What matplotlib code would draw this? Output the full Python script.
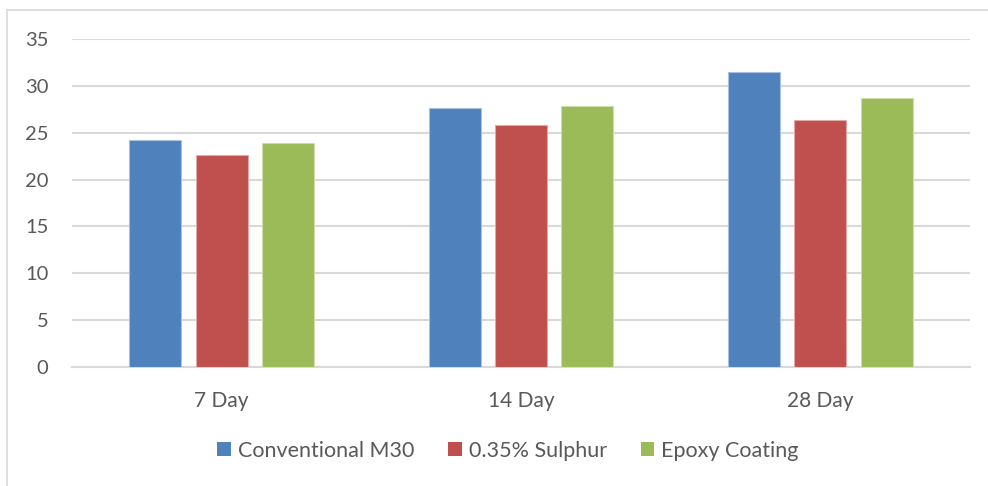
import numpy as np
import matplotlib.pyplot as plt
from matplotlib.lines import Line2D

plt.rcParams['font.family'] = ['Lato', 'DejaVu Sans']

ages = ['7 Day', '14 Day', '28 Day']
series = ['Conventional M30', '0.35% Sulphur', 'Epoxy Coating']
conventional = [24.2, 27.6, 31.5]
sulphur = [22.6, 25.8, 26.4]
epoxy = [23.9, 27.8, 28.7]
colors = ['#4f81bd', '#c0504d', '#9bbb59']
edges = ['#a7c0de', '#e0a8a6', '#cdddac']

text_col = '#595959'
grid_col = '#d9d9d9'

fig = plt.figure(figsize=(9.88, 4.86), dpi=100)
ax = fig.add_axes([72 / 988, 1 - 367 / 486, (970 - 72) / 988, (367 - 39) / 486])

x = np.arange(len(ages))
width = 0.174
step = 0.222
for i, vals in enumerate([conventional, sulphur, epoxy]):
    ax.bar(x + (i - 1) * step, vals, width, color=colors[i], edgecolor=edges[i],
           linewidth=0.8, label=series[i], zorder=3)

ax.set_xlim(-0.5, 2.5)
ax.set_ylim(0, 35)
ax.set_yticks(range(0, 36, 5))
ax.set_xticks(x)
ax.set_xticklabels(ages)
ax.yaxis.grid(True, color=grid_col, linewidth=1.5, zorder=0)
for s in ['top', 'right', 'left']:
    ax.spines[s].set_visible(False)
ax.spines['bottom'].set_color(grid_col)
ax.spines['bottom'].set_linewidth(1.5)
ax.tick_params(axis='y', length=0, pad=17, labelsize=14.5, labelcolor=text_col)
ax.tick_params(axis='x', length=0, pad=17, labelsize=15, labelcolor=text_col)

# outer chart frame (only top and left edges show)
fig.add_artist(Line2D([7 / 988, 7 / 988], [1 - 10 / 486, 0], color=grid_col,
                      linewidth=1.2, transform=fig.transFigure))
fig.add_artist(Line2D([7 / 988, 1], [1 - 10 / 486, 1 - 10 / 486], color=grid_col,
                      linewidth=1.2, transform=fig.transFigure))

leg = fig.legend(loc='center', bbox_to_anchor=(508 / 988, 1 - 451 / 486), ncol=3,
                 frameon=False, fontsize=15.5, handlelength=0.62, handleheight=0.62,
                 handletextpad=0.32, columnspacing=1.6)
for t in leg.get_texts():
    t.set_color(text_col)
for h in leg.legend_handles:
    h.set_edgecolor('none')

fig.savefig('out.png', dpi=100)
